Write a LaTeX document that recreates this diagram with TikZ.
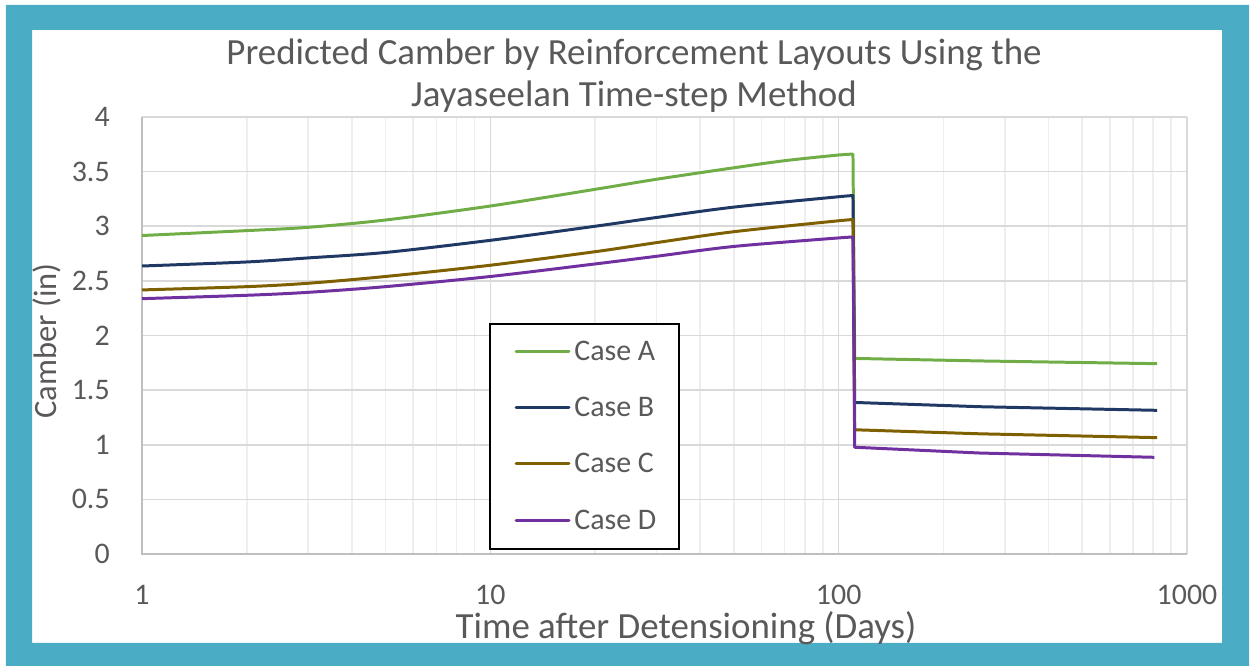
\documentclass[tikz,border=0pt]{standalone}
\usepackage{fontspec}
\setmainfont{Carlito}
\definecolor{frameteal}{HTML}{4BACC6}
\definecolor{txtgray}{HTML}{595959}
\definecolor{gridmajor}{HTML}{D9D9D9}
\definecolor{gridminor}{HTML}{EEEEEE}
\definecolor{axisgray}{HTML}{BFBFBF}
\definecolor{caseAcol}{HTML}{70AD47}
\definecolor{caseBcol}{HTML}{203864}
\definecolor{caseCcol}{HTML}{7F6000}
\definecolor{caseDcol}{HTML}{7030A0}

\begin{document}
\begin{tikzpicture}[
    title/.style={anchor=base, inner sep=0pt, text=txtgray, font=\fontsize{21}{25}\selectfont},
    axistitle/.style={anchor=base, inner sep=0pt, text=txtgray},
    ticklabel/.style={inner sep=0pt, text=txtgray, font=\fontsize{17}{20}\selectfont},
    legtext/.style={anchor=base west, inner sep=0pt, text=txtgray, font=\fontsize{17}{20}\selectfont},
    series/.style={line width=1.7pt, line join=round}]
  \useasboundingbox (0,0) rectangle (25.06,13.32);
  \fill[frameteal, even odd rule] (0.12,0) rectangle (24.98,13.22)
    (0.64,0.46) rectangle (24.44,12.72);

  \node[title] (title1) at (12.68,12.02) {Predicted Camber by Reinforcement Layouts Using the};
  \node[title] (title2) at (12.68,11.18) {Jayaseelan Time-step Method};
  \node[axistitle, font=\fontsize{21}{25}\selectfont] (xtitle) at (13.72,0.55) {Time after Detensioning (Days)};
  \node[axistitle, font=\fontsize{18.5}{22}\selectfont, rotate=90] (ytitle) at (1.134,6.5) {Camber (in)};

  % plot area: x = log10(days), y = camber in inches
  \begin{scope}[shift={(2.84,2.24)}, x=6.9667cm, y=2.185cm]
    \foreach \d in {0,1,2}
      \foreach \m in {2,...,9}
        \draw[gridminor, line width=0.9pt] ({\d+log10(\m)},0) -- ({\d+log10(\m)},4);
    \foreach \v in {0.5,1.0,...,4.0}
      \draw[gridmajor, line width=0.9pt] (0,\v) -- (3,\v);
    \foreach \d in {1,2,3}
      \draw[gridmajor, line width=0.9pt] (\d,0) -- (\d,4);
    \draw[axisgray, line width=1.1pt] (0,4) -- (0,0) -- (3,0);

    \foreach \v/\t [count=\i] in {0/0,0.5/0.5,1/1,1.5/1.5,2/2,2.5/2.5,3/3,3.5/3.5,4/4}
      \node[ticklabel, anchor=east, xshift=-0.64cm] (ytick\i) at (0,\v) {\t};
    \foreach \d/\t in {0/1,1/10,2/100,3/1000}
      \node[ticklabel, yshift=-0.81cm] (xtick\t) at (\d,0) {\t};

    \draw[series, caseAcol] plot[smooth] coordinates {(0,2.915) (0.301,2.96) (0.477,2.99)
        (0.699,3.057) (1,3.185) (1.301,3.338) (1.477,3.43) (1.699,3.535) (1.845,3.60) (2,3.652) (2.041,3.66)}
      -- (2.046,1.79) -- (2.406,1.767) -- (2.914,1.742);
    \draw[series, caseBcol] plot[smooth] coordinates {(0,2.636) (0.301,2.673) (0.477,2.71)
        (0.699,2.76) (1,2.871) (1.301,3.0) (1.477,3.08) (1.699,3.175) (2,3.27) (2.041,3.28)}
      -- (2.046,1.387) -- (2.406,1.348) -- (2.914,1.315);
    \draw[series, caseCcol] plot[smooth] coordinates {(0,2.417) (0.301,2.447) (0.477,2.478)
        (0.699,2.54) (1,2.643) (1.301,2.767) (1.477,2.85) (1.699,2.95) (2,3.05) (2.041,3.06)}
      -- (2.046,1.137) -- (2.406,1.10) -- (2.914,1.065);
    \draw[series, caseDcol] plot[smooth] coordinates {(0,2.337) (0.301,2.368) (0.477,2.395)
        (0.699,2.447) (1,2.54) (1.301,2.655) (1.477,2.725) (1.699,2.815) (2,2.893) (2.041,2.90)}
      -- (2.046,0.977) -- (2.406,0.924) -- (2.906,0.885);
  \end{scope}

  % legend
  \draw[black, line width=1.1pt, fill=white] (9.8,2.34) rectangle (13.58,6.84);
  \foreach \y/\c/\l in {6.28/caseAcol/A,5.16/caseBcol/B,4.04/caseCcol/C,2.90/caseDcol/D} {
    \draw[\c, line width=1.7pt, line cap=round] (10.32,\y) -- (11.38,\y);
    \node[legtext] (leg\l) at (11.48,\y-0.18) {Case \l};
  }
\end{tikzpicture}
\end{document}
